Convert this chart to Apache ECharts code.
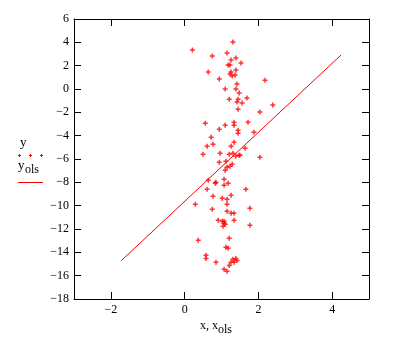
<!DOCTYPE html>
<html>
<head>
<meta charset="utf-8">
<script src="https://cdn.jsdelivr.net/npm/echarts@6/dist/echarts.min.js"></script>
<style>
html,body{margin:0;padding:0;background:#fff;}
#chart{width:400px;height:350px;}
</style>
</head>
<body>
<div id="chart"></div>
<script>
// observed points (x, y)
const xVals = [1.31,0.21,0.75,1.15,1.39,1.26,1.53,1.18,1.23,1.39,0.64,1.26,1.23,1.37,1.29,0.94,2.18,1.42,1.10,1.39,
  1.48,1.69,1.21,1.45,1.42,1.56,2.39,1.45,2.04,0.56,1.34,1.72,1.34,1.10,0.94,1.45,1.45,1.88,0.72,1.34,
  0.61,0.77,1.26,1.64,0.50,0.96,1.21,1.31,1.39,1.48,1.50,2.04,0.94,1.12,1.29,1.23,1.15,1.10,0.64,1.07,
  0.83,0.85,1.18,1.07,1.66,0.61,0.77,1.26,1.02,1.15,0.29,1.15,0.75,1.77,1.15,1.26,1.34,0.91,1.02,1.07,
  1.07,1.10,1.04,1.34,1.77,1.21,0.37,1.12,1.18,0.58,0.58,1.31,1.39,1.42,0.85,1.26,1.34,1.21,1.07,1.15];
const yVals = [4.03,3.34,2.82,3.08,2.65,2.48,2.22,2.05,2.05,1.62,1.45,1.45,1.28,1.19,1.11,0.85,0.76,0.42,-0.01,-0.01,
  -0.35,-0.78,-0.87,-0.87,-1.12,-1.21,-1.38,-1.73,-1.98,-2.93,-2.84,-2.84,-3.10,-3.10,-3.44,-3.53,-3.79,-3.70,-4.13,-4.56,
  -4.90,-4.73,-4.90,-5.07,-5.59,-5.50,-5.59,-5.50,-5.76,-5.67,-5.67,-5.85,-6.27,-6.19,-6.45,-6.62,-6.70,-6.96,-7.82,-7.73,
  -8.08,-7.99,-8.08,-8.25,-8.59,-8.59,-9.19,-9.11,-9.36,-9.45,-9.88,-9.88,-10.31,-10.22,-10.48,-10.65,-10.65,-11.25,-11.34,-11.34,
  -11.51,-11.60,-11.77,-11.25,-11.68,-12.80,-12.97,-13.57,-13.66,-14.26,-14.52,-14.60,-14.52,-14.69,-14.86,-14.86,-14.86,-15.12,-15.46,-15.63];
// OLS fitted line
const olsX = [-1.72, 4.24];
const olsY = [-14.72, 2.91];
// ticks
const xTicks = [-2, 0, 2, 4];
const xMin = -3, xMax = 5;
const yMin = -18, yMax = 6, yStep = 2;

const font = 'Liberation Serif';
const fmt = v => String(v).replace('-', '\u2212');
const scatterData = xVals.map((x, i) => [x, yVals[i]]);
const lineData = olsX.map((x, i) => [x, olsY[i]]);

const chart = echarts.init(document.getElementById('chart'), null, {renderer: 'canvas'});
const axisLine = {show: true, onZero: false, lineStyle: {color: '#000', width: 1}};
const plus = 'path://M1.75,0H3.25V1.75H5V3.25H3.25V5H1.75V3.25H0V1.75H1.75Z';

function legendPlus(cx, cy) {
  return [
    {type: 'rect', shape: {x: cx - 1, y: cy, width: 3, height: 1}, style: {fill: '#ff0000'}},
    {type: 'rect', shape: {x: cx, y: cy - 1, width: 1, height: 3}, style: {fill: '#ff0000'}}
  ];
}
function txt(x, y, s, size) {
  return {type: 'text', x: x, y: y, style: {text: s, fill: '#000', font: size + 'px "' + font + '"', align: 'left', verticalAlign: 'middle'}};
}

chart.setOption({
  animation: false,
  backgroundColor: '#fff',
  grid: {left: 74, top: 19, width: 295, height: 280},
  xAxis: [
    {type: 'value', position: 'bottom', min: xMin, max: xMax,
      axisLine: axisLine, splitLine: {show: false},
      axisTick: {show: true, inside: true, length: 7, customValues: xTicks, lineStyle: {color: '#000'}},
      axisLabel: {show: true, customValues: xTicks, margin: 5, color: '#000', fontFamily: font, fontSize: 12, formatter: fmt}},
    {type: 'value', position: 'top', min: xMin, max: xMax,
      axisLine: axisLine, splitLine: {show: false},
      axisTick: {show: true, inside: true, length: 7, customValues: xTicks, lineStyle: {color: '#000'}},
      axisLabel: {show: false}}
  ],
  yAxis: [
    {type: 'value', position: 'left', min: yMin, max: yMax, interval: yStep,
      axisLine: axisLine, splitLine: {show: false},
      axisTick: {show: true, inside: true, length: 7, lineStyle: {color: '#000'}},
      axisLabel: {show: true, margin: 5, color: '#000', fontFamily: font, fontSize: 12, formatter: fmt}},
    {type: 'value', position: 'right', min: yMin, max: yMax, interval: yStep,
      axisLine: axisLine, splitLine: {show: false},
      axisTick: {show: true, inside: true, length: 7, lineStyle: {color: '#000'}},
      axisLabel: {show: false}}
  ],
  series: [
    {type: 'line', data: lineData, xAxisIndex: 0, yAxisIndex: 0, symbol: 'none',
      lineStyle: {color: '#ff0000', width: 1}, silent: true},
    {type: 'scatter', data: scatterData, xAxisIndex: 0, yAxisIndex: 0,
      symbol: plus, symbolSize: 5, itemStyle: {color: '#ff0000'}, silent: true}
  ],
  graphic: [
    txt(20, 142.6, 'y', 13),
    ...legendPlus(19, 155),
    ...legendPlus(30, 155),
    ...legendPlus(41, 155),
    txt(18, 165.6, 'y', 13),
    txt(25, 170, 'ols', 12),
    {type: 'rect', shape: {x: 18, y: 182, width: 25, height: 1}, style: {fill: '#ff0000'}},
    txt(200, 326, 'x, x', 12),
    txt(218, 330, 'ols', 12)
  ]
});
</script>
</body>
</html>
